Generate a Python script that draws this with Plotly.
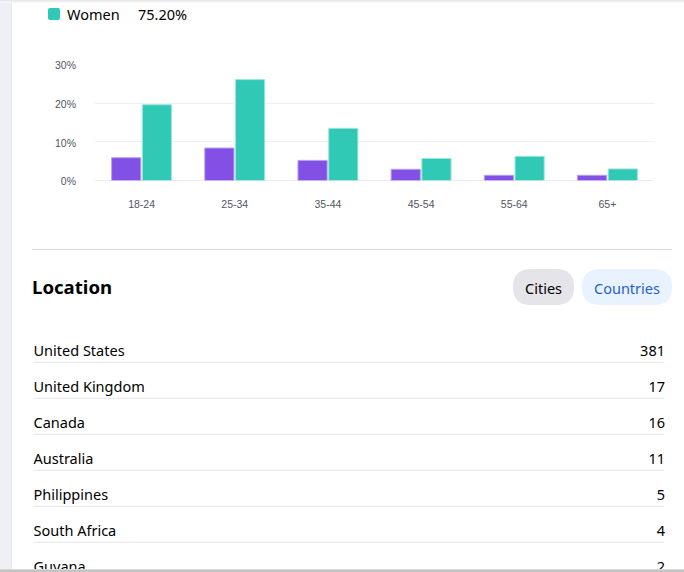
import plotly.graph_objects as go

W, H = 684, 572

age_groups = ["18-24", "25-34", "35-44", "45-54", "55-64", "65+"]
men_pct = [5.9, 8.4, 5.2, 2.9, 1.35, 1.35]
women_pct = [19.6, 26.1, 13.5, 5.7, 6.25, 3.0]
pct_ticks = [0, 10, 20, 30]
pct_labels = ["0%", "10%", "20%", "30%"]

countries = ["United States", "United Kingdom", "Canada", "Australia",
             "Philippines", "South Africa", "Guyana"]
country_counts = [381, 17, 16, 11, 5, 4, 2]

PURPLE = "#8350e6"
TEAL = "#30c9b5"
UI_FONT = "Noto Sans"


def px(x):
    return x / W


def py(y):
    return 1 - y / H


def rect(x0, y0, x1, y1, color):
    return dict(type="rect", xref="paper", yref="paper", x0=px(x0), x1=px(x1),
                y0=py(y0), y1=py(y1), fillcolor=color, line_width=0, layer="below")


def pill(x0, y0, x1, y1, r, color):
    a, b, c, d = px(x0), py(y0), px(x1), py(y1)
    rx, ry = r / W, r / H
    path = (f"M {a+rx} {b} L {c-rx} {b} Q {c} {b} {c} {b-ry} L {c} {d+ry} Q {c} {d} {c-rx} {d} "
            f"L {a+rx} {d} Q {a} {d} {a} {d+ry} L {a} {b-ry} Q {a} {b} {a+rx} {b} Z")
    return dict(type="path", xref="paper", yref="paper", path=path,
                fillcolor=color, line_width=0, layer="below")


def label(x, y, text, size, color="#000000", anchor="left", font=UI_FONT, bold=False):
    return dict(xref="paper", yref="paper", x=px(x), y=py(y), text=f"<b>{text}</b>" if bold else text,
                showarrow=False, xanchor=anchor, yanchor="middle",
                font=dict(family=font, size=size, color=color))


fig = go.Figure()

fig.add_trace(go.Bar(x=age_groups, y=men_pct, name="Men", marker_color=PURPLE,
                     marker_line=dict(color="#b9a0f0", width=1)))
fig.add_trace(go.Bar(x=age_groups, y=women_pct, name="Women", marker_color=TEAL,
                     marker_line=dict(color="#9fe6da", width=1)))

# location list lives on its own axes so the last row gets cut off like in the page
fig.add_trace(go.Scatter(x=[33.5] * len(countries), y=list(range(len(countries))), text=countries,
                         mode="text", textposition="middle right", xaxis="x2", yaxis="y2",
                         textfont=dict(family=UI_FONT, size=14.5, color="#000000")))
fig.add_trace(go.Scatter(x=[665] * len(countries), y=list(range(len(countries))), text=country_counts,
                         mode="text", textposition="middle left", xaxis="x2", yaxis="y2",
                         textfont=dict(family=UI_FONT, size=14.5, color="#000000")))

shapes = [
    rect(0, 0, 11, H, "#eef0f5"),
    rect(11, 0, 12, H, "#e6e7ea"),
    rect(0, 0, W, 1, "#e9e9eb"),
    rect(0, 1, W, 2, "#f1f1f2"),
    rect(0, 2, W, 3, "#f8f8f8"),
    rect(0, 569, W, 570, "#d8d8d8"),
    rect(0, 570, W, 572, "#c4c4c4"),
    pill(48, 8, 60, 20, 2, TEAL),
    rect(32, 249, 672, 250, "#d6d6d9"),
    pill(513, 269, 574, 305, 18, "#e4e4e9"),
    pill(582, 269, 672, 305, 18, "#e9f3ff"),
]
for i in range(len(countries) - 1):
    shapes.append(dict(type="line", xref="x2", yref="y2", x0=33.5, x1=664,
                       y0=i + 0.286, y1=i + 0.286, line=dict(color="#e5e5ea", width=1), layer="below"))

annotations = [
    label(65, 14.5, "Women", 14.5),
    label(136, 14.5, "75.20%", 14.5),
    label(30, 286, "Location", 18.6, bold=True),
    label(543.5, 287.5, "Cities", 14.5, anchor="center"),
    label(627, 287.5, "Countries", 14.5, color="#1f5fc9", anchor="center"),
]

fig.update_layout(
    width=W, height=H, margin=dict(l=0, r=0, t=0, b=0, autoexpand=False),
    paper_bgcolor="white", plot_bgcolor="rgba(0,0,0,0)",
    showlegend=False, barmode="group", bargap=0.34, bargroupgap=0.05,
    shapes=shapes, annotations=annotations,
    xaxis=dict(domain=[px(95), px(654)], showgrid=False, showline=False, zeroline=False,
               ticks="", ticklabelstandoff=16,
               tickfont=dict(family="Liberation Sans", size=10.5, color="#50565f")),
    yaxis=dict(domain=[py(180.5), py(64.5)], range=[0, 30], tickvals=pct_ticks, ticktext=pct_labels,
               gridcolor="#f0f0f2", gridwidth=1, zeroline=True, zerolinecolor="#ececf0",
               zerolinewidth=1, showline=False, ticks="", ticklabelstandoff=18, ticklabelshift=1,
               tickfont=dict(family="Liberation Sans", size=10.5, color="#50565f")),
    xaxis2=dict(domain=[px(30), px(670)], range=[30, 670], visible=False, anchor="y2"),
    yaxis2=dict(domain=[py(569), py(330)], range=[(569 - 352) / 36, (330 - 352) / 36],
                visible=False, anchor="x2"),
)

fig.write_html("out.html", config={"displayModeBar": False},
               post_script="document.body.style.margin='0';document.documentElement.style.overflow='hidden';")
